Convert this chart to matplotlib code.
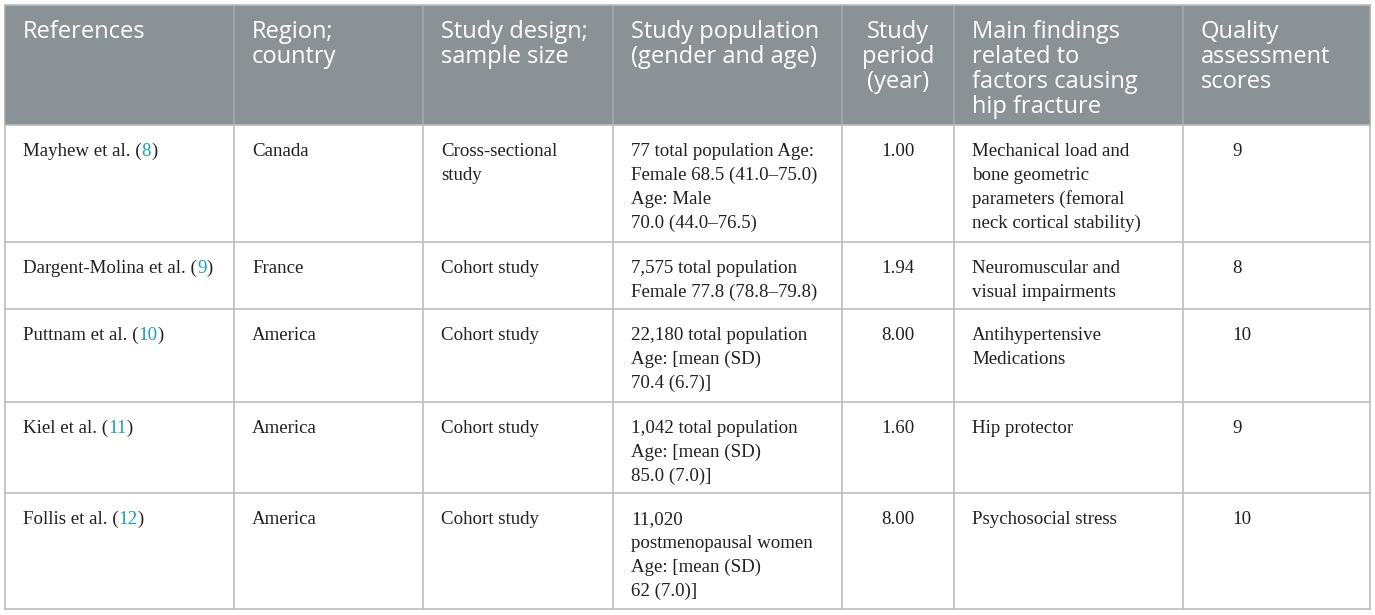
import matplotlib.pyplot as plt

# 表格数据
headers = ["References", "Region;\ncountry", "Study design;\nsample size",
           "Study population\n(gender and age)", "Study\nperiod\n(year)",
           "Main findings\nrelated to\nfactors causing\nhip fracture",
           "Quality\nassessment\nscores"]
authors = ["Mayhew et al.", "Dargent-Molina et al.", "Puttnam et al.", "Kiel et al.", "Follis et al."]
cites = ["8", "9", "10", "11", "12"]
regions = ["Canada", "France", "America", "America", "America"]
designs = ["Cross-sectional\nstudy", "Cohort study", "Cohort study", "Cohort study", "Cohort study"]
populations = ["77 total population Age:\nFemale 68.5 (41.0\u201375.0)\nAge: Male\n70.0 (44.0\u201376.5)",
               "7,575 total population\nFemale 77.8 (78.8\u201379.8)",
               "22,180 total population\nAge: [mean (SD)\n70.4 (6.7)]",
               "1,042 total population\nAge: [mean (SD)\n85.0 (7.0)]",
               "11,020\npostmenopausal women\nAge: [mean (SD)\n62 (7.0)]"]
periods = [1.00, 1.94, 8.00, 1.60, 8.00]
findings = ["Mechanical load and\nbone geometric\nparameters (femoral\nneck cortical stability)",
            "Neuromuscular and\nvisual impairments",
            "Antihypertensive\nMedications",
            "Hip protector",
            "Psychosocial stress"]
scores = [9, 8, 10, 9, 10]

# 版式（像素）
col_x = [5, 234, 423, 613, 842, 954, 1183, 1370]
row_y = [5, 125, 242, 309, 402, 493, 609]
pad = 18
head_pitch = 25
body_pitch = 24.2

head_bg = '#8b9295'
grid_c = '#bdbdbd'
txt_c = '#231f20'
cite_c = '#1a9fbf'
serif = ['Liberation Serif', 'DejaVu Serif']
sans = ['Open Sans', 'DejaVu Sans']
fs_head = 17
fs_body = 13.6

fig = plt.figure(figsize=(13.75, 6.15), dpi=100)
ax = fig.add_axes([0, 0, 1, 1])
ax.set_xlim(0, 1375)
ax.set_ylim(615, 0)
ax.axis('off')

# 表头背景
ax.add_patch(plt.Rectangle((col_x[0], row_y[0]), col_x[-1] - col_x[0], row_y[1] - row_y[0],
                           facecolor=head_bg, edgecolor='none', zorder=0))
# 网格线
for x in col_x:
    ax.plot([x, x], [row_y[1], row_y[-1]], color=grid_c, lw=1.2, zorder=1)
    ax.plot([x, x], [row_y[0], row_y[1]], color='#a3a9ab', lw=1.2, zorder=1)
for y in row_y:
    ax.plot([col_x[0], col_x[-1]], [y, y], color=grid_c, lw=1.2, zorder=1)


def lines_at(x, base, text, pitch, **kw):
    for k, line in enumerate(text.split('\n')):
        ax.text(x, base + k * pitch, line, va='baseline', **kw)


# 表头文字
for j, h in enumerate(headers):
    if j == 4:
        cx = (col_x[j] + col_x[j + 1]) / 2
        lines_at(cx, 37.7, h, head_pitch, ha='center', color='white',
                 fontsize=fs_head, family=sans)
    else:
        lines_at(col_x[j] + pad, 37.7, h, head_pitch, ha='left', color='white',
                 fontsize=fs_head, family=sans)

# 表体
for i in range(len(authors)):
    y0 = row_y[i + 1] + 30.7
    t = ax.text(col_x[0] + pad, y0, authors[i] + " (", va='baseline', ha='left',
                color=txt_c, fontsize=fs_body, family=serif)
    t2 = ax.annotate(cites[i], xycoords=t, xy=(1, 0), va='bottom', ha='left',
                     color=cite_c, fontsize=fs_body, family=serif)
    ax.annotate(")", xycoords=t2, xy=(1, 0), va='bottom', ha='left',
                color=txt_c, fontsize=fs_body, family=serif)
    lines_at(col_x[1] + pad, y0, regions[i], body_pitch, ha='left', color=txt_c,
             fontsize=fs_body, family=serif)
    lines_at(col_x[2] + pad, y0, designs[i], body_pitch, ha='left', color=txt_c,
             fontsize=fs_body, family=serif)
    lines_at(col_x[3] + pad, y0, populations[i], body_pitch, ha='left', color=txt_c,
             fontsize=fs_body, family=serif)
    lines_at((col_x[4] + col_x[5]) / 2, y0, "%.2f" % periods[i], body_pitch, ha='center',
             color=txt_c, fontsize=fs_body, family=serif)
    lines_at(col_x[5] + pad, y0, findings[i], body_pitch, ha='left', color=txt_c,
             fontsize=fs_body, family=serif)
    lines_at(col_x[6] + 49, y0, str(scores[i]), body_pitch, ha='left', color=txt_c,
             fontsize=fs_body, family=serif)

fig.savefig('out.png', dpi=100)
